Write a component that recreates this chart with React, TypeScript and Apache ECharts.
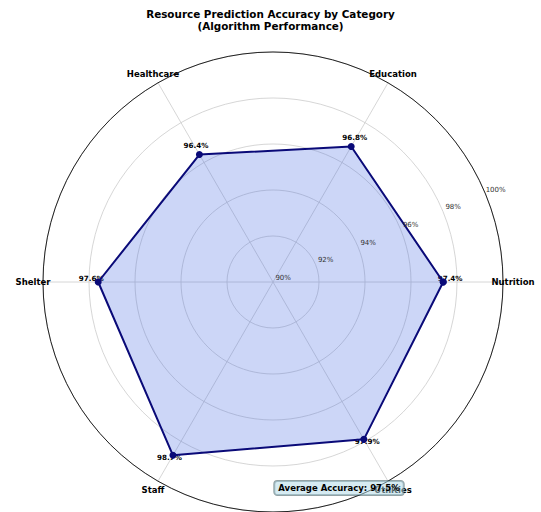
import React, { useEffect, useRef } from 'react';
import * as echarts from 'echarts';

const categories = ['Nutrition', 'Education', 'Healthcare', 'Shelter', 'Staff', 'Utilities'];
const accuracy = [97.4, 96.8, 96.4, 97.6, 98.7, 97.9];
const radialTicks = [90, 92, 94, 96, 98, 100];
const tickLabels = ['90%', '92%', '94%', '96%', '98%', '100%'];
const titleText = 'Resource Prediction Accuracy by Category\n(Algorithm Performance)';

const R_MIN = 90;
const R_MAX = 100;
const LABEL_ANGLE = 22.5;
const FONT = "'DejaVu Sans', sans-serif";

export default function App() {
  const ref = useRef<HTMLDivElement>(null);
  useEffect(() => {
    document.body.style.margin = '0';
    const chart = echarts.init(ref.current!, null, { renderer: 'svg' });
    const n = categories.length;
    const angles = categories.map((_, i) => (i * 360) / n);
    const lineData: number[][] = accuracy.map((v, i) => [v, angles[i]]);
    lineData.push([accuracy[0], 360]);
    const avg = accuracy.reduce((a, b) => a + b, 0) / n;

    const outward = (api: any, value: number, angle: number, extraPx: number) => {
      const c = api.coord([R_MIN, 0]);
      const pMax = api.coord([R_MAX, angle]);
      const dx = pMax[0] - c[0];
      const dy = pMax[1] - c[1];
      const len = Math.hypot(dx, dy);
      const p = api.coord([value, angle]);
      const r = Math.hypot(p[0] - c[0], p[1] - c[1]) + extraPx;
      return [c[0] + (dx / len) * r, c[1] + (dy / len) * r];
    };

    const option: any = {
      animation: false,
      backgroundColor: '#ffffff',
      title: {
        text: titleText,
        left: 'center',
        top: 3,
        textStyle: { fontFamily: FONT, fontSize: 10.4, fontWeight: 'bold', color: '#000', lineHeight: 12 },
      },
      polar: { center: [273, 282], radius: 230 },
      angleAxis: {
        type: 'value',
        min: 0,
        max: 360,
        interval: 60,
        startAngle: 0,
        clockwise: false,
        axisLine: { show: true, lineStyle: { color: '#222222', width: 1 } },
        axisTick: { show: false },
        axisLabel: { show: false },
        splitLine: { show: true, lineStyle: { color: '#cccccc', width: 0.8 } },
      },
      radiusAxis: {
        type: 'value',
        min: R_MIN,
        max: R_MAX,
        interval: 2,
        axisLine: { show: false },
        axisTick: { show: false },
        axisLabel: { show: false },
        splitLine: { show: true, lineStyle: { color: '#cccccc', width: 0.8 } },
      },
      graphic: [
        {
          type: 'text',
          x: 339,
          y: 488,
          z: 100,
          style: {
            text: `Average Accuracy: ${avg.toFixed(1)}%`,
            fontFamily: FONT,
            fontSize: 8.5,
            fontWeight: 'bold',
            fill: '#000',
            align: 'center',
            verticalAlign: 'middle',
            backgroundColor: 'rgba(173,216,230,0.5)',
            borderColor: 'rgba(40,70,75,0.5)',
            borderWidth: 1,
            borderRadius: 3,
            padding: [3, 4, 2, 4],
          },
        },
      ],
      series: [
        {
          type: 'custom',
          coordinateSystem: 'polar',
          silent: true,
          z: 3,
          data: radialTicks.map((t, i) => [t, LABEL_ANGLE, i]),
          renderItem: (_p: any, api: any) => {
            const t = api.value(0);
            const i = api.value(2);
            const pos = outward(api, t, LABEL_ANGLE, 11);
            return {
              type: 'text',
              x: pos[0],
              y: pos[1],
              style: {
                text: tickLabels[i],
                fontFamily: FONT,
                fontSize: 7,
                fill: '#333333',
                align: 'center',
                verticalAlign: 'middle',
              },
            };
          },
        },
        {
          type: 'custom',
          coordinateSystem: 'polar',
          silent: true,
          z: 3,
          data: categories.map((_, i) => [R_MAX, angles[i], i]),
          renderItem: (_p: any, api: any) => {
            const i = api.value(2);
            const pos = outward(api, R_MAX, angles[i], 10);
            return {
              type: 'text',
              x: pos[0],
              y: pos[1],
              style: {
                text: categories[i],
                fontFamily: FONT,
                fontSize: 8.5,
                fontWeight: 'bold',
                fill: '#000',
                align: 'center',
                verticalAlign: 'middle',
              },
            };
          },
        },
        {
          type: 'custom',
          coordinateSystem: 'polar',
          silent: true,
          z: 1,
          data: accuracy.map((v, i) => [v, angles[i], i]),
          renderItem: (_p: any, api: any) => {
            const v = api.value(0);
            const i = api.value(2);
            const pos = api.coord([v + 0.3, angles[i]]);
            return {
              type: 'text',
              x: pos[0],
              y: pos[1],
              style: {
                text: `${accuracy[i].toFixed(1)}%`,
                fontFamily: FONT,
                fontSize: 7.2,
                fontWeight: 'bold',
                fill: '#000',
                align: 'center',
                verticalAlign: 'bottom',
              },
            };
          },
        },
        {
          type: 'line',
          coordinateSystem: 'polar',
          data: lineData,
          z: 2,
          symbol: 'circle',
          symbolSize: 7,
          lineStyle: { color: '#0a0a78', width: 2 },
          itemStyle: { color: '#0a0a78' },
          areaStyle: { color: 'rgba(65,105,225,0.27)', opacity: 1 },
        },
      ],
    };
    chart.setOption(option);
    return () => chart.dispose();
  }, []);
  return <div ref={ref} style={{ width: 541, height: 512 }} />;
}
